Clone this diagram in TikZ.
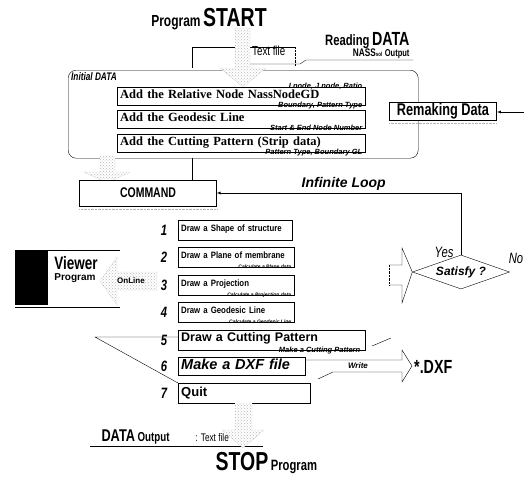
\documentclass[tikz,border=0pt]{standalone}
\usepackage{fontspec}
\setmainfont{Liberation Serif}
\setsansfont{Liberation Sans}
\newfontfamily\condfont[FakeStretch=0.75]{Liberation Sans}
\newfontfamily\itemfont[FakeStretch=0.85]{Liberation Sans}
\newcommand{\condsize}[1]{\condfont\bfseries\fontsize{#1}{#1}\selectfont}
\usetikzlibrary{shapes.geometric,patterns}

\tikzset{
  hatch/.style={draw=gray!70, densely dotted, preaction={fill=white}, pattern=crosshatch dots, pattern color=gray!55},
  addbox/.style={draw, fill=white, anchor=north west, minimum height=18pt, inner xsep=3pt, inner ysep=1pt, text height=9pt, text depth=5pt, text width=#1, align=left, font=\bfseries\fontsize{12.5}{12.5}\selectfont},
  itembox/.style={draw, fill=white, anchor=west, minimum height=20pt, inner xsep=3pt, inner ysep=1pt, text height=7pt, text depth=4pt, text width=#1, align=left, font=\itemfont\bfseries\fontsize{9.2}{9.2}\selectfont},
  sublabel/.style={anchor=base east, inner sep=0pt, font=\sffamily\bfseries\itshape\fontsize{7.5}{7.5}\selectfont},
  smalllabel/.style={anchor=base east, inner sep=0pt, font=\sffamily\bfseries\itshape\fontsize{5}{5}\selectfont},
  num/.style={font=\condfont\bfseries\itshape\fontsize{15}{15}\selectfont},
}

\begin{document}
\begin{tikzpicture}[x=1pt,y=-1pt,>=latex]
\useasboundingbox (0,0) rectangle (524,479);

% start and reading data
\node[anchor=base] (start) at (209,27) {{\condsize{16}Program} {\condsize{26}START}};
\node[anchor=base east] (reading) at (413,45) {{\condsize{15}Reading} {\condsize{19}DATA}};
\node[anchor=base east] (nass) at (413,56) {{\condsize{11}NASS}{\condsize{6}sol} {\condsize{10}Output}};
\draw (192,68) -- (192,47) -- (295,47);
\draw[densely dotted] (295,47) -- (295,66);
\node[anchor=base west, inner sep=0pt] (txtfile) at (252,55) {\condfont\fontsize{13}{13}\selectfont Text file};
\coordinate (nassline) at (413,60);
\draw (248,64) -- (300,64) -- (306,60) -- (nassline);

% initial data
\node[draw, rounded corners=8pt, minimum width=350pt, minimum height=88pt, anchor=north west, inner sep=0pt] (init) at (68,70) {};
\node[anchor=north west, inner sep=1pt, font=\condfont\bfseries\itshape\fontsize{11}{11}\selectfont] (initlbl) at ([xshift=2pt,yshift=-1pt]init.north west) {Initial DATA};
\draw[hatch] (235,28) -- (250,28) -- (250,68) -- (266,68) -- (243,87) -- (220,68) -- (235,68) -- cycle;

\node[addbox=242pt] (rel) at (117,87) {Add the Relative Node NassNodeGD};
\node[addbox=242pt] (geo) at (117,110) {Add the Geodesic Line};
\node[addbox=242pt] (cut) at (117,134) {Add the Cutting Pattern (Strip data)};
\node[sublabel] (l1a) at ([xshift=-3pt,yshift=-1.5pt]rel.north east) {I node, J node, Ratio};
\node[sublabel] (l1b) at ([xshift=-3pt,yshift=-2pt]rel.south east) {Boundary, Pattern Type};
\node[sublabel] (l2) at ([xshift=-3pt,yshift=-2pt]geo.south east) {Start \& End Node Number};
\node[sublabel] (l3) at ([xshift=-3pt,yshift=-2pt]cut.south east) {Pattern Type, Boundary GL};

\node[draw, thick, fill=white, minimum width=107pt, minimum height=18pt, inner sep=0pt] (remake) at (443,111) {\condsize{17}Remaking Data};
\draw[gray!60, densely dotted] ([yshift=-3pt]remake.south west) -- ([yshift=-3pt]remake.south east);
\coordinate (rin) at (524,112);
\draw[->] (rin) -- (remake.east |- rin);

% command
\draw[hatch] (100,156) -- (115,156) -- (115,172) -- (130,172) -- (107,183) -- (84,172) -- (100,172) -- cycle;
\node[draw, fill=white, minimum width=137pt, minimum height=26pt] (cmd) at (148,193) {\condsize{14}COMMAND};
\draw[gray!60, densely dotted] ([yshift=-3pt]cmd.south west) -- ([yshift=-3pt]cmd.south east);
\draw ([xshift=-25pt]cmd.north east) -- ([xshift=-25pt]cmd.north east |- init.south);

% wedge behind the items
\coordinate (wedge) at (95,337);
\draw (178,337) -- (wedge) -- (178,383);
\draw (372,346) -- (391,338);

% items
\node[itembox=108pt] (d1) at (178,230) {Draw a Shape of structure};
\node[itembox=110pt] (d2) at (178,257) {Draw a Plane of membrane};
\node[itembox=110pt] (d3) at (178,285) {Draw a Projection};
\node[itembox=110pt] (d4) at (178,312) {Draw a Geodesic Line};
\node[itembox=181pt, text height=9pt, text depth=6pt, font=\sffamily\bfseries\fontsize{12.5}{12.5}\selectfont] (d5) at (178,340) {Draw a Cutting Pattern};
\node[itembox=121pt, minimum height=18pt, text height=10pt, text depth=3pt, font=\sffamily\bfseries\itshape\fontsize{14.5}{14.5}\selectfont] (d6) at (178,366) {Make a DXF file};
\node[itembox=126pt, text height=10pt, text depth=3pt, font=\sffamily\bfseries\fontsize{13}{13}\selectfont] (d7) at (178,393) {Quit};
\node[smalllabel] (c2) at ([xshift=-3pt,yshift=-1pt]d2.south east) {Calculate a Plane data};
\node[smalllabel] (c3) at ([xshift=-3pt,yshift=-1pt]d3.south east) {Calculate a Projection data};
\node[smalllabel] (c4) at ([xshift=-3pt,yshift=-1pt]d4.south east) {Calculate a Geodesic Line};
\node[sublabel] (c5) at ([xshift=-5pt,yshift=-2pt]d5.south east) {Make a Cutting Pattern};
\node[num] (n1) at (164,230) {1};
\node[num] (n2) at (164,257) {2};
\node[num] (n3) at (164,285) {3};
\node[num] (n4) at (164,312) {4};
\node[num] (n5) at (164,340) {5};
\node[num] (n6) at (164,366) {6};
\node[num] (n7) at (164,393) {7};

% satisfy
\node[draw, diamond, aspect=2.9, inner sep=0pt, minimum width=97pt, minimum height=34pt, fill=white, font=\sffamily\bfseries\itshape\fontsize{12}{12}\selectfont] (sat) at (461,272) {Satisfy ?};
\draw[->] (sat.north) |- node[pos=0.74, above, inner sep=2pt, font=\sffamily\bfseries\itshape\fontsize{14}{14}\selectfont] (loop) {Infinite Loop} (cmd.east);
\node[font=\condfont\itshape\fontsize{15}{15}\selectfont] (yes) at (444,252) {Yes};
\node[font=\condfont\itshape\fontsize{15}{15}\selectfont] (no) at (516,258) {No};
\draw (389,265) -- (402,265) -- (402,248) -- (sat.west) -- (402,303) -- (402,285) -- (389,285);
\draw[densely dotted] (389,285) -- (389,265);

% viewer
\fill (15,250) rectangle (48,305);
\draw[thick] (48,250) -- (120,250);
\draw[thick] (15,307) -- (120,307);
\node (viewer) at (76,263) {\condsize{18}Viewer};
\node (vprog) at (75,278) {\sffamily\bfseries\fontsize{10}{10}\selectfont Program};
\draw[hatch] (157,272) -- (117,272) -- (117,257) -- (100,281) -- (117,305) -- (117,290) -- (157,290) -- cycle;
\node[font=\sffamily\bfseries\fontsize{8}{8}\selectfont, inner sep=1pt] (online) at (131,281) {OnLine};

% write dxf
\draw ([yshift=6pt]d6.east) -- (402,360) -- (402,350) -- (412,366) -- (402,382) -- (402,372) -- (333,372) -- (318,379);
\node[font=\sffamily\bfseries\itshape\fontsize{8}{8}\selectfont] (write) at (358,366) {Write};
\node[anchor=west, inner sep=1pt] (dxf) at (413,367) {\condsize{19}*.DXF};

% stop
\node[anchor=base west] (dout) at (98,441) {{\condsize{17}DATA} {\condsize{13}Output}};
\node[anchor=base west] (dtxt) at (192,441) {\condfont\fontsize{11}{11}\selectfont : Text file};
\draw (90,446) -- (263,446);
\draw[hatch] (235,403) -- (252,403) -- (252,430) -- (264,430) -- (243,448) -- (222,430) -- (235,430) -- cycle;
\node[anchor=base west] (stop) at (212,470) {{\condsize{26}STOP} {\condsize{15}Program}};
\end{tikzpicture}
\end{document}
